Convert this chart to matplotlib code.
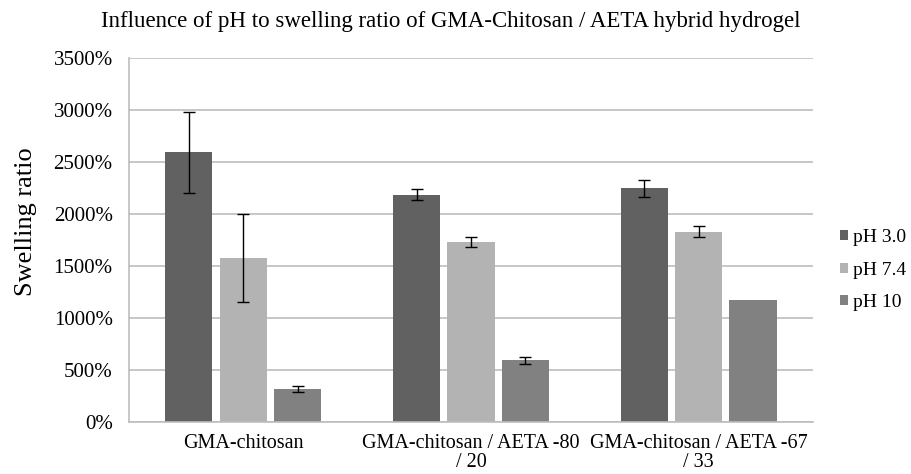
import numpy as np
import matplotlib
matplotlib.use("Agg")
import matplotlib.pyplot as plt
from matplotlib.ticker import FuncFormatter

plt.rcParams["font.family"] = ["Liberation Serif", "DejaVu Serif"]

# data
categories = ["GMA-chitosan", "GMA-chitosan / AETA -80\n/ 20", "GMA-chitosan / AETA -67\n/ 33"]
series = ["pH 3.0", "pH 7.4", "pH 10"]
ph30 = [2590, 2185, 2245]
ph74 = [1575, 1730, 1830]
ph10 = [315, 590, 1170]
err30 = [385, 50, 85]
err74 = [420, 50, 50]
err10 = [32, 35, 0]
colors = ["#616161", "#b3b3b3", "#818181"]

fig = plt.figure(figsize=(9.11, 4.74), dpi=100)
ax = fig.add_axes([0.142, 0.110, 0.750, 0.768])

x = np.arange(len(categories))
width = 0.208
step = 0.239
for i, (vals, errs) in enumerate([(ph30, err30), (ph74, err74), (ph10, err10)]):
    ax.bar(x + (i - 1) * step, vals, width, color=colors[i], label=series[i], zorder=2)
    e = np.array(errs)
    mask = e > 0
    ax.errorbar((x + (i - 1) * step)[mask], np.array(vals)[mask], yerr=e[mask],
                fmt="none", ecolor="black", elinewidth=1, capsize=4, capthick=1, zorder=3)

ax.set_xlim(-0.5, 2.5)
ax.set_ylim(0, 3500)
ax.set_yticks(np.arange(0, 3501, 500))
ax.yaxis.set_major_formatter(FuncFormatter(lambda v, p: f"{int(v)}%"))
ax.set_xticks(x)
ax.set_xticklabels(categories, fontsize=14.5, linespacing=0.95)
ax.tick_params(axis="y", labelsize=15, length=0, pad=12)
ax.tick_params(axis="x", length=0, pad=9)
ax.grid(axis="y", color="#bdbdbd", linewidth=1.2, zorder=0)
ax.set_axisbelow(True)
for s in ["top", "right"]:
    ax.spines[s].set_visible(False)
for s in ["left", "bottom"]:
    ax.spines[s].set_color("#bdbdbd")
    ax.spines[s].set_linewidth(1.2)

ax.set_ylabel("Swelling ratio", fontsize=19)
ax.yaxis.set_label_coords(-0.135, 0.549)
fig.suptitle("Influence of pH to swelling ratio of GMA-Chitosan / AETA hybrid hydrogel",
             fontsize=16.5, x=0.495, y=0.976)

ax.legend(loc="center left", bbox_to_anchor=(1.028, 0.417), frameon=False, fontsize=14,
          handlelength=0.42, handleheight=0.42, handletextpad=0.26, labelspacing=0.8,
          borderaxespad=0)

fig.savefig("out.png", dpi=100)
